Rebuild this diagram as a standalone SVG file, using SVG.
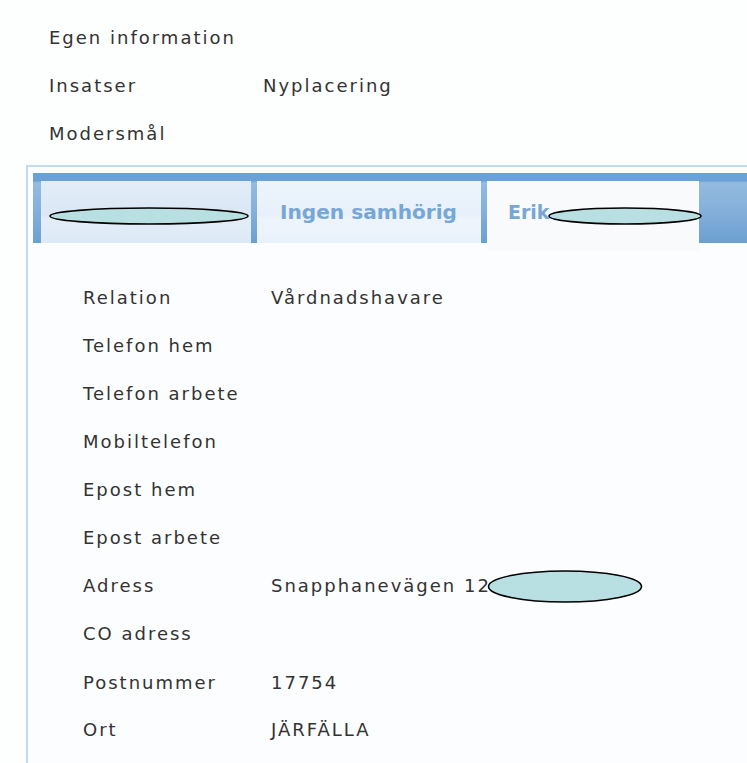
<svg xmlns="http://www.w3.org/2000/svg" width="747" height="763" viewBox="0 0 747 763">
  <defs>
    <linearGradient id="strip" x1="0" y1="0" x2="0" y2="1">
      <stop offset="0" stop-color="#6aa1d6"/>
      <stop offset="0.11" stop-color="#6aa1d6"/>
      <stop offset="0.14" stop-color="#94bbe0"/>
      <stop offset="0.5" stop-color="#86b1db"/>
      <stop offset="1" stop-color="#6c9fd0"/>
    </linearGradient>
    <linearGradient id="tab1" x1="0" y1="0" x2="0" y2="1">
      <stop offset="0" stop-color="#e2edf8"/>
      <stop offset="0.55" stop-color="#dae7f4"/>
      <stop offset="0.62" stop-color="#e2edf8"/>
      <stop offset="1" stop-color="#dde9f6"/>
    </linearGradient>
    <linearGradient id="tab2" x1="0" y1="0" x2="0" y2="1">
      <stop offset="0" stop-color="#ecf4fc"/>
      <stop offset="0.55" stop-color="#e8f1fb"/>
      <stop offset="0.62" stop-color="#edf4fc"/>
      <stop offset="1" stop-color="#e9f2fb"/>
    </linearGradient>
  </defs>
  <style>
    .t { font-family: "DejaVu Sans", Verdana, sans-serif; font-size: 18px; letter-spacing: 2px; fill: #333333; }
    .tab { font-family: "DejaVu Sans", Verdana, sans-serif; font-size: 19px; font-weight: bold; fill: #78a7d4; }
    .blot { fill: #b8dfe2; stroke: #000; stroke-width: 1.6; }
  </style>
  <rect x="0" y="0" width="747" height="763" fill="#fdfefe"/>

  <g id="menu">
    <text class="t" x="49" y="44">Egen information</text>
    <text class="t" x="49" y="92">Insatser</text>
    <text class="t" x="263" y="92">Nyplacering</text>
    <text class="t" x="49" y="140">Modersmål</text>
  </g>

  <g id="panel">
    <rect x="27" y="166" width="740" height="620" fill="#fcfdfe" stroke="#c3daf0" stroke-width="2"/>
    <rect x="33" y="173" width="714" height="70" fill="url(#strip)"/>
  </g>

  <g id="tab-1">
    <rect x="41" y="181" width="210" height="62" fill="url(#tab1)"/>
    <ellipse class="blot" cx="149" cy="216" rx="99" ry="8"/>
  </g>
  <g id="tab-2">
    <rect x="257" y="181" width="224" height="62" fill="url(#tab2)"/>
    <text class="tab" x="280" y="219" textLength="177" lengthAdjust="spacingAndGlyphs">Ingen samhörig</text>
  </g>
  <g id="tab-3">
    <rect x="487" y="181" width="212" height="70" fill="#f8fafc"/>
    <text class="tab" x="508" y="219">Erik</text>
    <ellipse class="blot" cx="625" cy="216" rx="76" ry="8"/>
  </g>

  <g id="fields">
    <text class="t" x="83" y="304">Relation</text>
    <text class="t" x="271" y="304">Vårdnadshavare</text>
    <text class="t" x="83" y="352">Telefon hem</text>
    <text class="t" x="83" y="400">Telefon arbete</text>
    <text class="t" x="83" y="448">Mobiltelefon</text>
    <text class="t" x="83" y="496">Epost hem</text>
    <text class="t" x="83" y="544">Epost arbete</text>
    <text class="t" x="83" y="592">Adress</text>
    <text class="t" x="271" y="592">Snapphanevägen 12</text>
    <ellipse class="blot" cx="565" cy="586.5" rx="76.5" ry="15.5"/>
    <text class="t" x="83" y="640">CO adress</text>
    <text class="t" x="83" y="689">Postnummer</text>
    <text class="t" x="271" y="689">17754</text>
    <text class="t" x="83" y="736">Ort</text>
    <text class="t" x="271" y="736">JÄRFÄLLA</text>
  </g>
  <g id="connectors"/>
</svg>
